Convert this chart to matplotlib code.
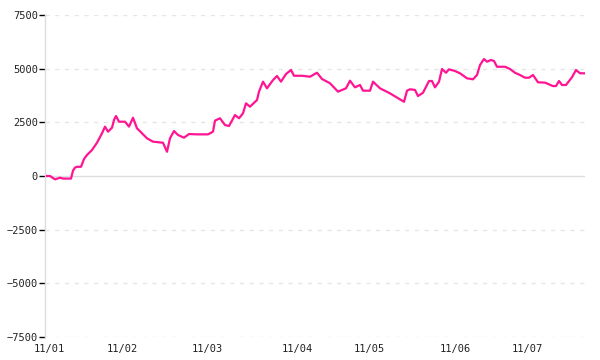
import matplotlib
matplotlib.use("Agg")
import matplotlib.pyplot as plt

# sample positions (trading-day units) and cumulative values
t = [0, 0.75, 2, 3.25, 4, 6, 6.5, 7, 7.5, 8.5,
     9.25, 10, 11.25, 12.5, 13.75, 14.5, 15.25, 16.25, 16.75, 17.25,
     18, 19.5, 20.5, 21.5, 22.5, 23.75, 25, 26.5, 29, 30,
     30.75, 31.75, 32.75, 34.25, 35.5, 37.5, 40.25, 41.5, 42, 43.25,
     44.5, 45.5, 47, 48, 49, 49.75, 50.75, 52.5, 53, 54,
     55, 56.5, 57.5, 58.5, 59.75, 61, 61.75, 63.75, 65.75, 67.5,
     68.75, 70.75, 72.75, 74.75, 75.75, 77, 78.25, 79, 80.75, 81.5,
     83.25, 85.75, 88.25, 89.25, 90, 90.75, 92, 92.75, 94, 95.5,
     96.25, 97, 98, 98.75, 99.75, 100.5, 102, 103.25, 105, 106.5,
     107.5, 108.25, 109.25, 110, 111, 111.75, 112.5, 114.5, 115.75, 117,
     118.25, 119.5, 120.5, 121.5, 122.75, 124.5, 126.5, 127.25, 128, 128.75,
     129.75, 131.25, 132.25, 133.25, 134.25]
values = [0, 0, -155, -80, -120, -120, 250, 390, 430, 430,
          790, 980, 1210, 1550, 1990, 2300, 2065, 2250, 2610, 2795,
          2530, 2530, 2300, 2715, 2220, 1990, 1755, 1600, 1550, 1130,
          1755, 2095, 1910, 1785, 1955, 1940, 1940, 2065, 2580, 2690,
          2375, 2330, 2840, 2690, 2920, 3385, 3230, 3540, 3930, 4395,
          4085, 4470, 4660, 4395, 4750, 4940, 4670, 4670, 4625, 4810,
          4520, 4320, 3930, 4085, 4440, 4130, 4240, 3975, 3975, 4395,
          4085, 3850, 3570, 3460, 3975, 4040, 4010, 3725, 3880, 4425,
          4425, 4130, 4395, 4985, 4810, 4970, 4890, 4785, 4550, 4505,
          4705, 5170, 5450, 5325, 5405, 5355, 5090, 5090, 4985, 4810,
          4705, 4580, 4580, 4705, 4365, 4350, 4190, 4190, 4425, 4240,
          4240, 4600, 4940, 4785, 4785]

tick_pos = [0.5, 18.75, 40, 62.5, 80.5, 102, 120]
tick_labels = ["11/01", "11/02", "11/03", "11/04", "11/05", "11/06", "11/07"]
y_ticks = [-7500, -5000, -2500, 0, 2500, 5000, 7500]

fig = plt.figure(figsize=(6, 3.6), dpi=100)
ax = fig.add_axes([0.075, 0.0639, 0.9, 0.8944])

font = "DejaVu Sans Mono"
ax.set_xlim(-0.5, 134.5)
ax.set_ylim(-7500, 7500)

for yv in y_ticks:
    if yv == 0:
        ax.axhline(0, color="#dddddd", lw=1.0, zorder=1)
    else:
        ax.axhline(yv, color="#e6e6e6", lw=1.0, ls=(0, (3, 4)), zorder=1)

ax.plot(t, values, color="#ff1493", lw=1.6, zorder=3)

for s in ["top", "right", "bottom"]:
    ax.spines[s].set_visible(False)
ax.spines["left"].set_color("#dddddd")
ax.spines["left"].set_linewidth(1.0)

ax.set_yticks(y_ticks)
ax.set_yticklabels([f"{v}".replace("-", "\u2212") for v in y_ticks], fontsize=7.5,
                   family=font, color="#222222")
ax.tick_params(axis="y", length=4, width=1, color="#000000", pad=1)
ax.set_xticks(tick_pos)
ax.set_xticklabels(tick_labels, fontsize=7.5, family=font, color="#222222")
ax.tick_params(axis="x", length=0, pad=5)

fig.savefig("out.png", dpi=100)
